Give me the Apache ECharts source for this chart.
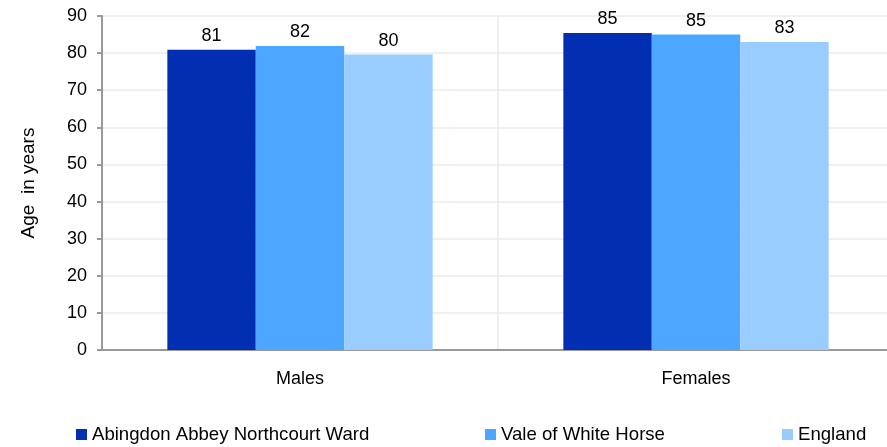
<!DOCTYPE html>
<html>
<head>
<meta charset="utf-8">
<script src="https://cdn.jsdelivr.net/npm/echarts@6/dist/echarts.min.js"></script>
<style>
  html, body { margin: 0; padding: 0; background: #fff; }
  #chart { width: 887px; height: 447px; }
</style>
</head>
<body>
<div id="chart"></div>
<script>
const categories = ['Males', 'Females'];
const seriesNames = ['Abingdon Abbey Northcourt Ward', 'Vale of White Horse', 'England'];
const wardValues = [80.9, 85.4];
const valeValues = [81.9, 85.0];
const englandValues = [79.6, 83.0];
const colors = ['#022fb1', '#4da6ff', '#99ccff'];

const font = 'Liberation Sans, Arial, sans-serif';
const allValues = [wardValues, valeValues, englandValues];

const series = seriesNames.map((name, i) => ({
    name: name,
    type: 'bar',
    data: allValues[i],
    barGap: '0%',
    barCategoryGap: '33%',
    itemStyle: { color: colors[i] },
    label: {
        show: true,
        position: 'top',
        distance: 5,
        color: '#000',
        fontSize: 18,
        fontFamily: font,
        formatter: p => Math.round(p.value)
    }
}));

const legendLefts = [76, 485, 782];
const legends = seriesNames.map((name, i) => ({
    data: [name],
    left: legendLefts[i],
    top: 425,
    padding: 0,
    itemWidth: 11,
    itemHeight: 11,
    itemGap: 0,
    itemTextGap: 9,
    icon: 'rect',
    textStyle: { color: '#000', fontSize: 18.6, fontFamily: font }
}));

const chart = echarts.init(document.getElementById('chart'));
chart.setOption({
    animation: false,
    grid: { left: 102, width: 792, top: 16, bottom: 97, outerBoundsMode: 'none', containLabel: false },
    legend: legends,
    xAxis: {
        type: 'category',
        data: categories,
        axisLine: { show: true, lineStyle: { color: '#999', width: 2 } },
        axisTick: { show: false },
        splitLine: { show: true, lineStyle: { color: '#ebebeb', width: 1.5 } },
        axisLabel: { color: '#000', fontSize: 18, fontFamily: font, margin: 20 }
    },
    yAxis: {
        type: 'value',
        min: 0,
        max: 90,
        interval: 10,
        name: 'Age  in years',
        nameLocation: 'middle',
        nameGap: 64,
        nameTextStyle: { color: '#000', fontSize: 19, fontFamily: font },
        axisLine: { show: true, lineStyle: { color: '#999', width: 2 } },
        axisTick: { show: true, length: 5, lineStyle: { color: '#999', width: 2 } },
        splitLine: { show: true, lineStyle: { color: '#ebebeb', width: 1.5 } },
        axisLabel: { color: '#000', fontSize: 18, fontFamily: font, margin: 15 }
    },
    series: series
});
</script>
</body>
</html>
